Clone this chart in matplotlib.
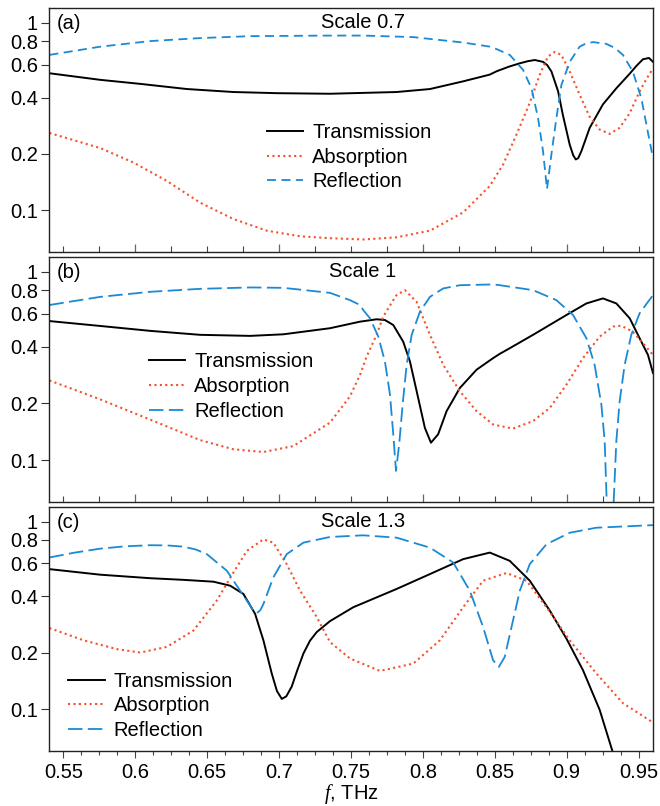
import numpy as np
import matplotlib
matplotlib.use("Agg")
import matplotlib.pyplot as plt
from matplotlib.ticker import MultipleLocator, FixedLocator, NullLocator, FixedFormatter

plt.rcParams['font.family'] = ['Liberation Sans', 'DejaVu Sans']
plt.rcParams['mathtext.fontset'] = 'custom'
plt.rcParams['mathtext.it'] = 'Liberation Serif:italic'
plt.rcParams['mathtext.rm'] = 'Liberation Sans'

# ---------------- Panel (a) Scale 0.7 ----------------
a_T_f = [0.5403, 0.5757, 0.6035, 0.6359, 0.6683, 0.6984, 0.7354, 0.7817, 0.8049, 0.828, 0.8465, 0.8512,
         0.86, 0.8674, 0.873, 0.8778, 0.8835, 0.8865, 0.8894, 0.894, 0.8974, 0.9021, 0.9045, 0.9063,
         0.908, 0.9102, 0.916, 0.9252, 0.9345, 0.9438, 0.9485, 0.953, 0.9572, 0.96]
a_T_v = [0.539, 0.497, 0.473, 0.444, 0.428, 0.422, 0.419, 0.428, 0.444, 0.488, 0.53, 0.552,
         0.585, 0.609, 0.625, 0.634, 0.62, 0.595, 0.55, 0.432, 0.321, 0.224, 0.197, 0.187,
         0.19, 0.207, 0.276, 0.368, 0.448, 0.536, 0.59, 0.64, 0.65, 0.62]
a_A_f = [0.5403, 0.5757, 0.5988, 0.622, 0.6451, 0.6683, 0.6914, 0.7146, 0.7354, 0.7585, 0.7817, 0.8049,
         0.828, 0.8465, 0.8558, 0.8651, 0.8743, 0.8812, 0.887, 0.8917, 0.8963, 0.9021, 0.909, 0.916,
         0.9229, 0.9299, 0.9368, 0.9438, 0.9507, 0.9553, 0.96]
a_A_v = [0.259, 0.215, 0.180, 0.1436, 0.110, 0.090, 0.078, 0.0728, 0.0711, 0.0700, 0.0719, 0.078,
         0.0976, 0.135, 0.176, 0.254, 0.375, 0.528, 0.663, 0.70, 0.675, 0.55, 0.414, 0.315,
         0.270, 0.256, 0.276, 0.33, 0.432, 0.50, 0.573]
a_R_f = [0.5403, 0.5757, 0.6104, 0.6451, 0.6799, 0.7354, 0.7585, 0.7933, 0.828, 0.8465, 0.8512, 0.8604,
         0.8697, 0.8755, 0.8801, 0.8835, 0.8863, 0.8894, 0.8928, 0.8963, 0.9021, 0.909, 0.9135, 0.9183,
         0.9275, 0.9335, 0.9391, 0.946, 0.9519, 0.9565, 0.96]
a_R_v = [0.675, 0.747, 0.80, 0.83, 0.85, 0.856, 0.856, 0.84, 0.786, 0.747, 0.725, 0.675,
         0.561, 0.448, 0.31, 0.208, 0.13, 0.2, 0.31, 0.467, 0.62, 0.747, 0.778, 0.79,
         0.773, 0.735, 0.675, 0.55, 0.396, 0.26, 0.19]

# ---------------- Panel (b) Scale 1 ----------------
b_T_f = [0.5403, 0.5757, 0.6104, 0.6451, 0.6799, 0.703, 0.7354, 0.7563, 0.7678, 0.7736, 0.7794, 0.7863,
         0.791, 0.7967, 0.8014, 0.8056, 0.8106, 0.8165, 0.8257, 0.8373, 0.8488, 0.8535, 0.8604, 0.8766,
         0.8998, 0.9137, 0.9252, 0.9345, 0.9438, 0.9507, 0.9565, 0.96]
b_T_v = [0.548, 0.516, 0.486, 0.463, 0.457, 0.466, 0.502, 0.544, 0.56, 0.555, 0.522, 0.426,
         0.334, 0.214, 0.148, 0.1236, 0.137, 0.182, 0.2415, 0.302, 0.348, 0.367, 0.393, 0.463,
         0.59, 0.68, 0.723, 0.68, 0.567, 0.444, 0.362, 0.29]
b_A_f = [0.5403, 0.5757, 0.6104, 0.6451, 0.6683, 0.6891, 0.7099, 0.7354, 0.7493, 0.7563, 0.7609, 0.7678,
         0.7724, 0.7794, 0.7817, 0.7875, 0.7956, 0.8049, 0.8141, 0.8257, 0.8373, 0.8488, 0.8604, 0.8627,
         0.8766, 0.8882, 0.8998, 0.9113, 0.9229, 0.9322, 0.938, 0.946, 0.953, 0.96]
b_A_v = [0.265, 0.21, 0.164, 0.1276, 0.114, 0.1103, 0.1186, 0.158, 0.218, 0.284, 0.355, 0.463,
         0.578, 0.708, 0.753, 0.80, 0.694, 0.463, 0.321, 0.232, 0.182, 0.1545, 0.148, 0.147,
         0.161, 0.189, 0.2515, 0.348, 0.453, 0.512, 0.518, 0.481, 0.418, 0.362]
b_R_f = [0.5403, 0.5757, 0.6104, 0.6451, 0.6799, 0.703, 0.7354, 0.7493, 0.7563, 0.7585, 0.7632, 0.769,
         0.7736, 0.7771, 0.7794, 0.7813, 0.7835, 0.7859, 0.7887, 0.7922, 0.7979, 0.8049, 0.8141, 0.8257,
         0.8488, 0.8535, 0.8766, 0.8928, 0.9044, 0.9137, 0.9194, 0.9241, 0.9264, 0.9299, 0.9345, 0.9368,
         0.9403, 0.9449, 0.9507, 0.96]
b_R_v = [0.667, 0.737, 0.784, 0.813, 0.827, 0.823, 0.774, 0.708, 0.667, 0.627, 0.567, 0.453,
         0.334, 0.223, 0.137, 0.0875, 0.121, 0.197, 0.321, 0.463, 0.614, 0.737, 0.817, 0.85,
         0.858, 0.85, 0.80, 0.708, 0.59, 0.444, 0.321, 0.197, 0.126, 0.02, 0.126, 0.205,
         0.321, 0.463, 0.603, 0.753]

# ---------------- Panel (c) Scale 1.3 ----------------
c_T_f = [0.5403, 0.5757, 0.6104, 0.6335, 0.6544, 0.666, 0.6752, 0.6833, 0.6891, 0.6949, 0.6985, 0.7019,
         0.705, 0.7088, 0.7125, 0.7169, 0.7215, 0.7262, 0.7354, 0.7516, 0.7817, 0.8049, 0.828, 0.8465,
         0.8604, 0.8743, 0.8882, 0.8998, 0.9113, 0.9229, 0.9317, 0.94]
c_T_v = [0.559, 0.522, 0.50, 0.49, 0.479, 0.456, 0.412, 0.323, 0.233, 0.155, 0.125, 0.1134,
         0.117, 0.132, 0.16, 0.198, 0.232, 0.258, 0.295, 0.35, 0.438, 0.526, 0.632, 0.685,
         0.619, 0.485, 0.336, 0.238, 0.1615, 0.0992, 0.06, 0.035]
c_A_f = [0.5403, 0.5641, 0.5873, 0.6035, 0.622, 0.6405, 0.6567, 0.6683, 0.6776, 0.6891, 0.696, 0.7053,
         0.7146, 0.7262, 0.7354, 0.7493, 0.7701, 0.7933, 0.8118, 0.828, 0.8419, 0.8581, 0.872, 0.8859,
         0.9021, 0.9206, 0.9391, 0.9588]
c_A_v = [0.271, 0.233, 0.209, 0.2005, 0.215, 0.263, 0.38, 0.537, 0.70, 0.806, 0.774, 0.594,
         0.429, 0.31, 0.228, 0.1864, 0.160, 0.175, 0.233, 0.35, 0.485, 0.533, 0.485, 0.35,
         0.233, 0.155, 0.1076, 0.086]
c_R_f = [0.5403, 0.558, 0.5757, 0.593, 0.6104, 0.622, 0.6335, 0.642, 0.6498, 0.6637, 0.6729, 0.6799,
         0.682, 0.6845, 0.687, 0.6891, 0.696, 0.7053, 0.7169, 0.7354, 0.7585, 0.7817, 0.8049, 0.8211,
         0.8326, 0.8419, 0.8488, 0.8528, 0.8569, 0.8616, 0.8674, 0.8743, 0.8859, 0.9021, 0.9206, 0.96]
c_R_v = [0.645, 0.685, 0.719, 0.74, 0.75, 0.748, 0.737, 0.712, 0.672, 0.548, 0.429, 0.357,
         0.335, 0.325, 0.338, 0.364, 0.505, 0.672, 0.774, 0.83, 0.847, 0.823, 0.728, 0.606,
         0.429, 0.274, 0.1825, 0.168, 0.19, 0.274, 0.429, 0.594, 0.759, 0.874, 0.93, 0.96]

panel_labels = ['(a)', '(b)', '(c)']
panel_titles = ['Scale 0.7', 'Scale 1', 'Scale 1.3']
series_names = ['Transmission', 'Absorption', 'Reflection']
y_ticks = [0.1, 0.2, 0.4, 0.6, 0.8, 1]
y_tick_labels = ['0.1', '0.2', '0.4', '0.6', '0.8', '1']
x_ticks_c = [0.55, 0.6, 0.65, 0.7, 0.75, 0.8, 0.85, 0.9, 0.95]
x_tick_labels_c = ['0.55', '0.6', '0.65', '0.7', '0.75', '0.8', '0.85', '0.9', '0.95']

panels = [
    (a_T_f, a_T_v, a_A_f, a_A_v, a_R_f, a_R_v),
    (b_T_f, b_T_v, b_A_f, b_A_v, b_R_f, b_R_v),
    (c_T_f, c_T_v, c_A_f, c_A_v, c_R_f, c_R_v),
]

T_COLOR = 'black'
A_COLOR = '#f5512c'
R_COLOR = '#1a8ad4'
FS = 14.5

fig = plt.figure(figsize=(6.6, 8.06), dpi=100)
positions = [
    [0.0742, 0.6873, 0.9152, 0.3027],
    [0.0742, 0.3775, 0.9152, 0.3036],
    [0.0742, 0.0686, 0.9152, 0.3024],
]
legend_anchor = [(0.361, 0.389), (0.1656, 0.4705), (0.032, 0.184)]
dash_styles = [(5, 3), (8, 3), (8, 3)]

for i, (pos, data) in enumerate(zip(positions, panels)):
    ax = fig.add_axes(pos)
    Tf, Tv, Af, Av, Rf, Rv = data
    ax.plot(Tf, Tv, color=T_COLOR, lw=1.4, label=series_names[0])
    ax.plot(Af, Av, color=A_COLOR, lw=1.5, linestyle=(0, (1, 1.6)), label=series_names[1])
    ax.plot(Rf, Rv, color=R_COLOR, lw=1.3, linestyle=(0, dash_styles[i]), label=series_names[2])
    ax.set_yscale('log')
    ax.set_xlim(0.54, 0.96)
    ax.set_ylim(0.06, 1.2)
    ax.yaxis.set_major_locator(FixedLocator(y_ticks))
    ax.yaxis.set_major_formatter(FixedFormatter(y_tick_labels))
    ax.yaxis.set_minor_locator(NullLocator())
    ax.tick_params(axis='y', which='major', direction='out', length=6, width=0.8,
                   labelsize=FS, pad=2, colors='#333333', labelcolor='black')
    if i < 2:
        ax.xaxis.set_major_locator(MultipleLocator(0.1))
        ax.xaxis.set_minor_locator(MultipleLocator(0.025))
        ax.tick_params(axis='x', which='major', direction='in', length=6, width=0.9,
                       labelbottom=False, colors='#666666')
        ax.tick_params(axis='x', which='minor', direction='in', length=4, width=0.8,
                       colors='#444444')
    else:
        ax.xaxis.set_major_locator(FixedLocator(x_ticks_c))
        ax.xaxis.set_major_formatter(FixedFormatter(x_tick_labels_c))
        ax.xaxis.set_minor_locator(MultipleLocator(0.0125))
        ax.tick_params(axis='x', which='major', direction='out', length=5, width=0.8,
                       labelsize=FS, pad=4, colors='#444444', labelcolor='black')
        ax.tick_params(axis='x', which='minor', direction='out', length=3, width=0.8,
                       colors='#444444')
        ax.set_xlabel(r'$f$, THz', fontsize=FS, labelpad=0)
    for sp in ax.spines.values():
        sp.set_linewidth(1.0)
        sp.set_color('#222222')
    ax.text(0.013, 0.975, panel_labels[i], transform=ax.transAxes, fontsize=FS,
            ha='left', va='top')
    ax.text(0.52, 0.98, panel_titles[i], transform=ax.transAxes, fontsize=FS,
            ha='center', va='top')
    leg = ax.legend(loc='center left', bbox_to_anchor=legend_anchor[i], frameon=False,
                    fontsize=FS, handlelength=1.8, handletextpad=0.45, labelspacing=0.28,
                    borderpad=0, borderaxespad=0)

fig.savefig('out.png', dpi=100)
